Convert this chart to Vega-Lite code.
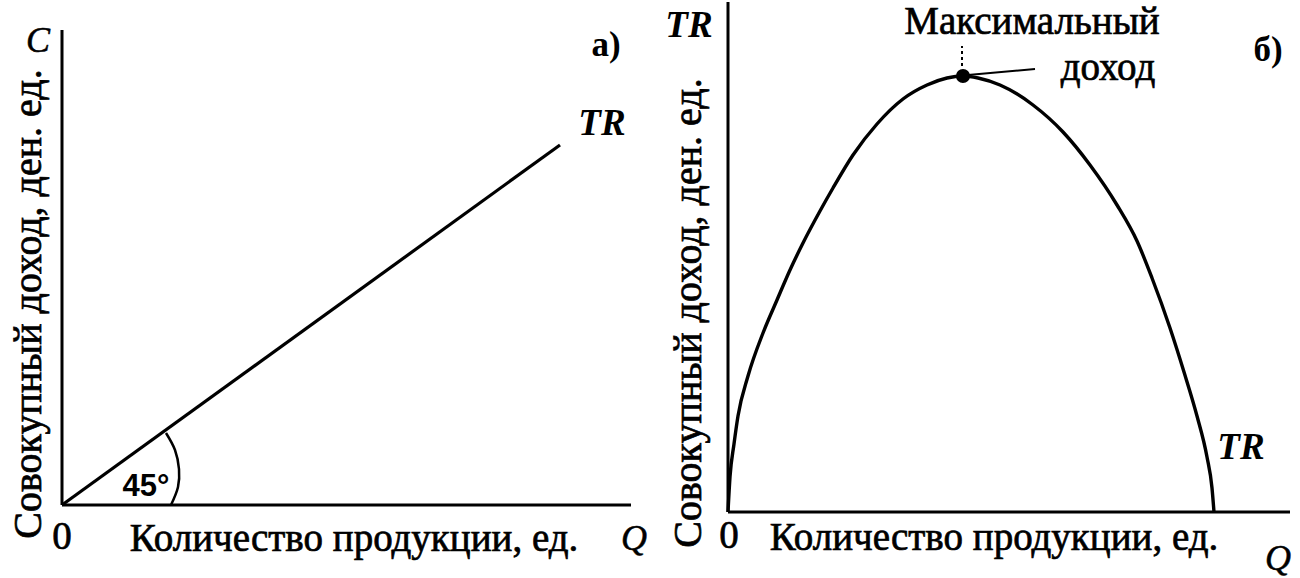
{
  "$schema": "https://vega.github.io/schema/vega-lite/v6.json",
  "padding": 0,
  "spacing": 0,
  "background": "white",
  "config": {"view": {"stroke": null}, "concat": {"spacing": 0}},
  "datasets": {
    "a_axes": [{"x": 0, "y": 0, "x2": 0, "y2": 475}, {"x": 0, "y": 0, "x2": 569, "y2": 0}],
    "a_tr": [{"x": 0, "y": 0}, {"x": 498, "y": 360}],
    "a_arc": [{"x": 104, "y": 72, "o": 1}, {"x": 113, "y": 55, "o": 2}, {"x": 117, "y": 36, "o": 3}, {"x": 116, "y": 18, "o": 4}, {"x": 109, "y": 0, "o": 5}],
    "a_txt": [{"x": 0, "y": -32, "t": "0"}, {"x": 292, "y": -34, "t": "Количество продукции, ед."}],
    "a_ital": [{"x": -24, "y": 464, "t": "C"}, {"x": 572, "y": -34, "t": "Q"}],
    "a_bi": [{"x": 540, "y": 381, "t": "TR"}],
    "a_bold": [{"x": 544, "y": 460, "t": "а)"}],
    "a_deg": [{"x": 84, "y": 18, "t": "45°"}],
    "a_ytitle": [{"x": -33, "y": 201, "t": "Совокупный доход, ден. ед."}],
    "b_axes": [{"x": 0, "y": 0, "x2": 0, "y2": 510}, {"x": 0, "y": 0, "x2": 562, "y2": 0}],
    "b_leader": [{"x": 240, "y": 437, "x2": 307, "y2": 443}],
    "b_dash": [{"x": 234, "y": 446, "x2": 234, "y2": 466}],
    "b_curve": [
      {"x": 0, "y": 0}, {"x": 2, "y": 35}, {"x": 6, "y": 68}, {"x": 10, "y": 96}, {"x": 20, "y": 136}, {"x": 35, "y": 179},
      {"x": 49, "y": 212}, {"x": 62, "y": 242}, {"x": 75, "y": 269}, {"x": 92, "y": 301}, {"x": 105, "y": 324}, {"x": 125, "y": 357},
      {"x": 149, "y": 388}, {"x": 175, "y": 413}, {"x": 199, "y": 427}, {"x": 219, "y": 434}, {"x": 235, "y": 436}, {"x": 250, "y": 434},
      {"x": 272, "y": 427}, {"x": 305, "y": 407}, {"x": 335, "y": 380}, {"x": 362, "y": 347}, {"x": 389, "y": 307}, {"x": 409, "y": 271},
      {"x": 424, "y": 234}, {"x": 442, "y": 184}, {"x": 456, "y": 140}, {"x": 469, "y": 96}, {"x": 479, "y": 55}, {"x": 484, "y": 24},
      {"x": 486, "y": 0}
    ],
    "b_peak": [{"x": 235, "y": 436}],
    "b_txt": [{"x": 304, "y": 490, "t": "Максимальный"}, {"x": 380, "y": 444, "t": "доход"}, {"x": 1, "y": -24, "t": "0"}, {"x": 266, "y": -26, "t": "Количество продукции, ед."}],
    "b_ital": [{"x": 550, "y": -47, "t": "Q"}],
    "b_bi": [{"x": -39, "y": 486, "t": "TR"}, {"x": 513, "y": 64, "t": "TR"}],
    "b_bold": [{"x": 540, "y": 462, "t": "б)"}],
    "b_ytitle": [{"x": -39, "y": 199, "t": "Совокупный доход, ден. ед."}]
  },
  "hconcat": [
    {
      "width": 650,
      "height": 578,
      "encoding": {
        "x": {"field": "x", "type": "quantitative", "scale": {"domain": [-62, 588], "nice": false, "zero": false}, "axis": null},
        "y": {"field": "y", "type": "quantitative", "scale": {"domain": [-75, 503], "nice": false, "zero": false}, "axis": null}
      },
      "layer": [
        {"data": {"name": "a_axes"}, "mark": {"type": "rule", "color": "black", "strokeWidth": 3}, "encoding": {"x2": {"field": "x2"}, "y2": {"field": "y2"}}},
        {"data": {"name": "a_tr"}, "mark": {"type": "line", "color": "black", "strokeWidth": 3.2}, "encoding": {}},
        {"data": {"name": "a_arc"}, "mark": {"type": "line", "color": "black", "strokeWidth": 2.5, "interpolate": "cardinal"}, "encoding": {"order": {"field": "o", "type": "quantitative"}}},
        {"data": {"name": "a_txt"}, "mark": {"type": "text", "font": "Liberation Serif", "fontSize": 39, "color": "black", "stroke": "black", "strokeWidth": 0.7, "baseline": "middle", "align": "center"}, "encoding": {"text": {"field": "t"}}},
        {"data": {"name": "a_ital"}, "mark": {"type": "text", "font": "Liberation Serif", "fontSize": 36, "fontStyle": "italic", "color": "black", "stroke": "black", "strokeWidth": 0.5, "baseline": "middle", "align": "center"}, "encoding": {"text": {"field": "t"}}},
        {"data": {"name": "a_bi"}, "mark": {"type": "text", "font": "Liberation Serif", "fontSize": 37, "fontStyle": "italic", "fontWeight": "bold", "color": "black", "baseline": "middle", "align": "center"}, "encoding": {"text": {"field": "t"}}},
        {"data": {"name": "a_bold"}, "mark": {"type": "text", "font": "Liberation Serif", "fontSize": 35, "fontWeight": "bold", "color": "black", "baseline": "middle", "align": "center"}, "encoding": {"text": {"field": "t"}}},
        {"data": {"name": "a_deg"}, "mark": {"type": "text", "font": "Liberation Sans", "fontSize": 31, "fontWeight": "bold", "color": "black", "baseline": "middle", "align": "center"}, "encoding": {"text": {"field": "t"}}},
        {"data": {"name": "a_ytitle"}, "mark": {"type": "text", "font": "Liberation Serif", "fontSize": 40, "angle": 270, "color": "black", "stroke": "black", "strokeWidth": 0.7, "baseline": "middle", "align": "center"}, "encoding": {"text": {"field": "t"}}}
      ]
    },
    {
      "width": 650,
      "height": 578,
      "encoding": {
        "x": {"field": "x", "type": "quantitative", "scale": {"domain": [-78, 572], "nice": false, "zero": false}, "axis": null},
        "y": {"field": "y", "type": "quantitative", "scale": {"domain": [-68, 510], "nice": false, "zero": false}, "axis": null}
      },
      "layer": [
        {"data": {"name": "b_axes"}, "mark": {"type": "rule", "color": "black", "strokeWidth": 3}, "encoding": {"x2": {"field": "x2"}, "y2": {"field": "y2"}}},
        {"data": {"name": "b_leader"}, "mark": {"type": "rule", "color": "black", "strokeWidth": 2}, "encoding": {"x2": {"field": "x2"}, "y2": {"field": "y2"}}},
        {"data": {"name": "b_dash"}, "mark": {"type": "rule", "color": "black", "strokeWidth": 2, "strokeDash": [3, 3]}, "encoding": {"x2": {"field": "x2"}, "y2": {"field": "y2"}}},
        {"data": {"name": "b_curve"}, "mark": {"type": "line", "color": "black", "strokeWidth": 3.4, "interpolate": "monotone"}, "encoding": {}},
        {"data": {"name": "b_peak"}, "mark": {"type": "point", "filled": true, "color": "black", "size": 200, "opacity": 1}, "encoding": {}},
        {"data": {"name": "b_txt"}, "mark": {"type": "text", "font": "Liberation Serif", "fontSize": 39, "color": "black", "stroke": "black", "strokeWidth": 0.7, "baseline": "middle", "align": "center"}, "encoding": {"text": {"field": "t"}}},
        {"data": {"name": "b_ital"}, "mark": {"type": "text", "font": "Liberation Serif", "fontSize": 36, "fontStyle": "italic", "color": "black", "stroke": "black", "strokeWidth": 0.5, "baseline": "middle", "align": "center"}, "encoding": {"text": {"field": "t"}}},
        {"data": {"name": "b_bi"}, "mark": {"type": "text", "font": "Liberation Serif", "fontSize": 37, "fontStyle": "italic", "fontWeight": "bold", "color": "black", "baseline": "middle", "align": "center"}, "encoding": {"text": {"field": "t"}}},
        {"data": {"name": "b_bold"}, "mark": {"type": "text", "font": "Liberation Serif", "fontSize": 35, "fontWeight": "bold", "color": "black", "baseline": "middle", "align": "center"}, "encoding": {"text": {"field": "t"}}},
        {"data": {"name": "b_ytitle"}, "mark": {"type": "text", "font": "Liberation Serif", "fontSize": 40, "angle": 270, "color": "black", "stroke": "black", "strokeWidth": 0.7, "baseline": "middle", "align": "center"}, "encoding": {"text": {"field": "t"}}}
      ]
    }
  ]
}
